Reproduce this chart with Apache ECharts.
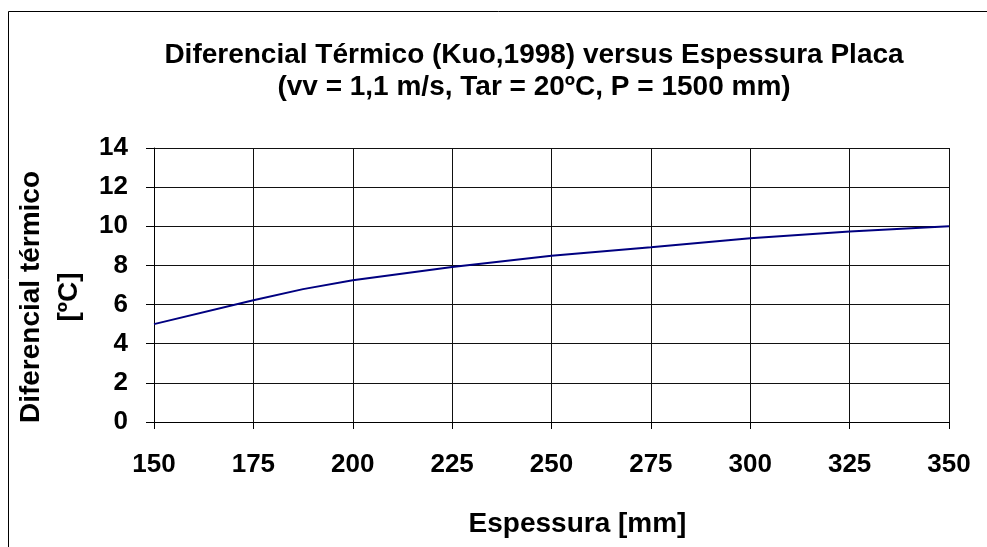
<!DOCTYPE html>
<html><head><meta charset="utf-8">
<script src="https://cdn.jsdelivr.net/npm/echarts@6/dist/echarts.min.js"></script>
<style>html,body{margin:0;padding:0;background:#fff}#c{width:987px;height:547px}</style>
</head><body><div id="c"></div>
<script>
const thickness = [150, 175, 187.5, 200, 225, 250, 275, 300, 325, 350];
const diffTerm = [5.0, 6.22, 6.79, 7.24, 7.92, 8.5, 8.93, 9.39, 9.73, 10.0];
const titleLines = ['Diferencial Térmico (Kuo,1998) versus Espessura Placa', '(vv = 1,1 m/s, Tar = 20ºC, P = 1500 mm)'];
const xName = 'Espessura [mm]';
const yName = 'Diferencial térmico\n[ºC]';

const chart = echarts.init(document.getElementById('c'));
const F = 'Liberation Sans, Arial, sans-serif';
chart.setOption({
  animation: false,
  backgroundColor: '#fff',
  graphic: [{type: 'rect', shape: {x: 8.5, y: 11.5, width: 1100, height: 600}, style: {fill: 'none', stroke: '#000', lineWidth: 1}, silent: true}],
  title: {
    text: titleLines.join('\n'), left: 529, top: 34, textAlign: 'center',
    textStyle: {fontFamily: F, fontSize: 28, fontWeight: 'bold', color: '#000', lineHeight: 32}
  },
  grid: {left: 154, right: 38, top: 148, bottom: 125, containLabel: false},
  xAxis: {
    type: 'value', min: 150, max: 350, interval: 25,
    name: xName, nameLocation: 'middle', nameGap: 88,
    nameTextStyle: {fontFamily: F, fontSize: 28, fontWeight: 'bold', color: '#000', padding: [0, 0, 0, 52]},
    axisLine: {show: true, lineStyle: {color: '#000', width: 1}},
    axisTick: {show: true, length: 7, lineStyle: {color: '#000'}},
    axisLabel: {fontFamily: F, fontSize: 26, fontWeight: 'bold', color: '#000', margin: 30},
    splitLine: {show: true, lineStyle: {color: '#111', width: 1}}
  },
  yAxis: {
    type: 'value', min: 0, max: 14, interval: 2,
    name: yName, nameLocation: 'middle', nameGap: 66, nameRotate: 90,
    nameTextStyle: {fontFamily: F, fontSize: 28, fontWeight: 'bold', color: '#000', lineHeight: 38, padding: [0, 24, 0, 0]},
    axisLine: {show: true, lineStyle: {color: '#000', width: 1}},
    axisTick: {show: true, length: 8, lineStyle: {color: '#000'}},
    axisLabel: {fontFamily: F, fontSize: 26, fontWeight: 'bold', color: '#000', margin: 26},
    splitLine: {show: true, lineStyle: {color: '#111', width: 1}}
  },
  series: [{
    type: 'line', data: thickness.map((x, i) => [x, diffTerm[i]]),
    showSymbol: false, smooth: false,
    lineStyle: {color: '#000080', width: 2}
  }]
});
</script></body></html>
